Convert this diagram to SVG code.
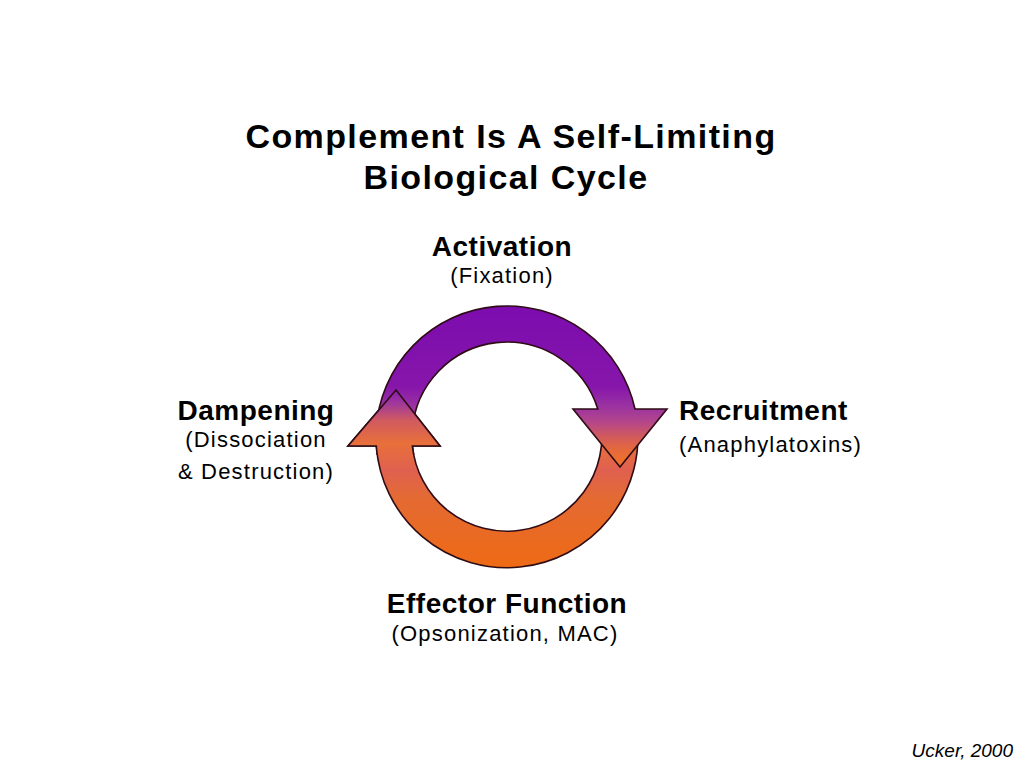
<svg xmlns="http://www.w3.org/2000/svg" xmlns:xlink="http://www.w3.org/1999/xlink" width="1024" height="768" viewBox="0 0 1024 768">
  <style>
    .title { font-family: "Liberation Sans", Arial, sans-serif; font-weight: bold; font-size: 34px; letter-spacing: 1.4px; fill: #000; }
    .head { font-family: "Liberation Sans", Arial, sans-serif; font-weight: bold; font-size: 28px; letter-spacing: 0.5px; fill: #000; }
    .sub { font-family: "Liberation Sans", Arial, sans-serif; font-size: 22px; letter-spacing: 1.2px; fill: #000; }
    .cite { font-family: "Liberation Sans", Arial, sans-serif; font-style: italic; font-size: 19px; fill: #000; }
    .arrow { stroke: #2e0c16; stroke-width: 1.6; stroke-linejoin: miter; }
  </style>
  <defs>
    <linearGradient id="gPurple" gradientUnits="userSpaceOnUse" x1="0" y1="306" x2="0" y2="467">
      <stop offset="0" stop-color="#7c0cae"/>
      <stop offset="0.5" stop-color="#8616aa"/>
      <stop offset="0.62" stop-color="#9a32a2"/>
      <stop offset="0.72" stop-color="#b4468a"/>
      <stop offset="0.82" stop-color="#d45c58"/>
      <stop offset="0.9" stop-color="#e66a3a"/>
      <stop offset="1" stop-color="#f07424"/>
    </linearGradient>
    <linearGradient id="gOrange" gradientUnits="userSpaceOnUse" x1="0" y1="390" x2="0" y2="568">
      <stop offset="0" stop-color="#8a1cb0"/>
      <stop offset="0.08" stop-color="#a23a98"/>
      <stop offset="0.17" stop-color="#d05a60"/>
      <stop offset="0.3" stop-color="#e8703a"/>
      <stop offset="0.45" stop-color="#e06050"/>
      <stop offset="0.6" stop-color="#e46a34"/>
      <stop offset="1" stop-color="#ee6a14"/>
    </linearGradient>
    <clipPath id="clipLeftHead">
      <rect x="300" y="370" width="160" height="85"/>
    </clipPath>
  </defs>
  <rect width="1024" height="768" fill="#ffffff"/>

  <g id="title">
    <text class="title" x="511" y="148" text-anchor="middle">Complement Is A Self-Limiting</text>
    <text class="title" x="506" y="189" text-anchor="middle">Biological Cycle</text>
  </g>

  <g id="connectors">
    <path id="orangeArrow" class="arrow" fill="url(#gOrange)" d="M 636.9 420 A 131 131 0 1 1 376.3 446 L 348 446 L 396 390 L 440 446 L 412.4 446 A 95 95 0 1 0 600.5 420 Z"/>
    <path id="purpleArrow" class="arrow" fill="url(#gPurple)" d="M 376.2 430 A 131 131 0 0 1 635 409 L 667 409 L 620 467 L 573 409 L 597.8 409 A 95 95 0 0 0 412.3 430 Z"/>
    <use xlink:href="#orangeArrow" href="#orangeArrow" clip-path="url(#clipLeftHead)"/>
  </g>

  <g id="node-activation">
    <text class="head" x="502" y="256" text-anchor="middle">Activation</text>
    <text class="sub" x="502" y="283" text-anchor="middle">(Fixation)</text>
  </g>
  <g id="node-recruitment">
    <text class="head" x="679" y="420">Recruitment</text>
    <text class="sub" x="679" y="452">(Anaphylatoxins)</text>
  </g>
  <g id="node-effector">
    <text class="head" x="507" y="613" text-anchor="middle">Effector Function</text>
    <text class="sub" x="505" y="641" text-anchor="middle">(Opsonization, MAC)</text>
  </g>
  <g id="node-dampening">
    <text class="head" x="256" y="420" text-anchor="middle">Dampening</text>
    <text class="sub" x="256" y="447" text-anchor="middle">(Dissociation</text>
    <text class="sub" x="256" y="479" text-anchor="middle">&amp; Destruction)</text>
  </g>

  <text class="cite" x="1013" y="757" text-anchor="end">Ucker, 2000</text>
</svg>
